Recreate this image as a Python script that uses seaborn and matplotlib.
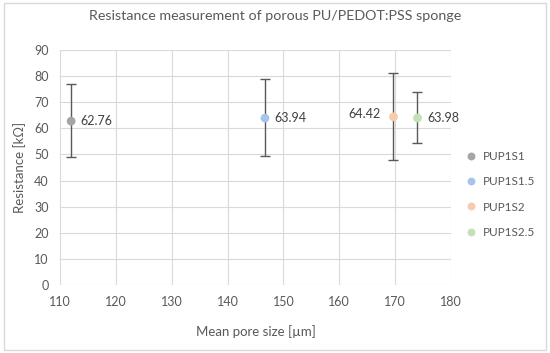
import numpy as np
import pandas as pd
import matplotlib.pyplot as plt
import matplotlib.patches as mpatches
import seaborn as sns

samples = ['PUP1S1', 'PUP1S1.5', 'PUP1S2', 'PUP1S2.5']
pore_size = [112, 146.7, 169.7, 174]
resistance = [62.76, 63.94, 64.42, 63.98]
err_up = [14.3, 14.8, 16.9, 9.9]
err_down = [13.9, 14.5, 16.4, 9.5]
colors = ['#a5a5a5', '#a9c4eb', '#f8cbad', '#c5e0b4']

df = pd.DataFrame({'sample': samples, 'size': pore_size, 'res': resistance})

sns.set_style('white')
plt.rcParams['font.family'] = ['Lato', 'DejaVu Sans']

fig = plt.figure(figsize=(5.5, 3.53), dpi=100)
ax = fig.add_axes([0.109, 0.193, 0.711, 0.665])

# error bars first so the dots sit on top
ax.errorbar(pore_size, resistance, yerr=[err_down, err_up], fmt='none',
            ecolor='#595959', elinewidth=1.0, capsize=3.5, capthick=1.0, zorder=2)
sns.scatterplot(data=df, x='size', y='res', hue='sample', palette=colors,
                s=40, edgecolor='none', ax=ax, zorder=3)

# value labels
offsets = [(7, 0, 'left'), (7, 0, 'left'), (-9, 2, 'right'), (7, 0, 'left')]
for x, y, (dx, dy, ha) in zip(pore_size, resistance, offsets):
    ax.annotate(f'{y:.2f}', (x, y), xytext=(dx, dy), textcoords='offset points',
                ha=ha, va='center', fontsize=9, color='#404040')

ax.set_xlim(110, 180)
ax.set_ylim(0, 90)
ax.set_xticks(np.arange(110, 181, 10))
ax.set_yticks(np.arange(0, 91, 10))
ax.grid(True, color='#d9d9d9', linewidth=0.8)
ax.set_axisbelow(True)
for s in ax.spines.values():
    s.set_visible(False)
ax.tick_params(axis='both', length=0, labelsize=9, colors='#595959', pad=8)

ax.set_xlabel('Mean pore size [µm]', fontsize=9.5, color='#595959', labelpad=12)
ax.set_ylabel('Resistance [kΩ]', fontsize=9.5, color='#595959', labelpad=6)
fig.text(0.5, 0.955, 'Resistance measurement of porous PU/PEDOT:PSS sponge',
         ha='center', va='center', fontsize=10.3, color='#595959')

leg = ax.legend(loc='center left', bbox_to_anchor=(0.995, 0.385), frameon=False,
                fontsize=8.5, labelspacing=1.2, handletextpad=0.0, markerscale=0.9)
for t in leg.get_texts():
    t.set_color('#595959')

# outer chart border
fig.patches.append(mpatches.Rectangle((0.007, 0.008), 0.986, 0.984, transform=fig.transFigure,
                                      fill=False, edgecolor='#d9d9d9', linewidth=1))

fig.savefig('out.png', dpi=100)
